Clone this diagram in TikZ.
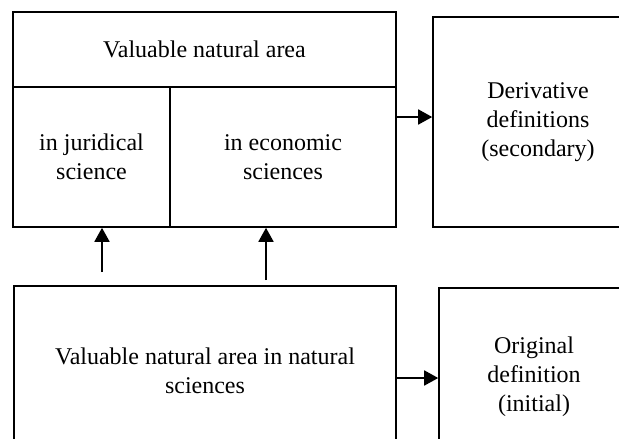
\documentclass[tikz,border=0pt]{standalone}
\usepackage{fontspec}
\setmainfont{Liberation Serif}
\usetikzlibrary{arrows.meta}
\begin{document}
\begin{tikzpicture}[x=1pt,y=-1pt,
  box/.style={draw=black,line width=1.6pt,rectangle,inner sep=0pt,align=center,
    font=\fontsize{24}{29}\selectfont},
  arr/.style={line width=1.8pt,-{Triangle[length=14pt,width=15pt]}}]
\useasboundingbox (0,0) rectangle (619,439);
\clip (0,0) rectangle (619,439);
\node[box,minimum width=383pt,minimum height=75pt] (top) at (204.5,49.5) {Valuable natural area};
\node[box,minimum width=157pt,minimum height=140pt] (jur) at (91.5,157) {in juridical\\science};
\node[box,minimum width=226pt,minimum height=140pt] (econ) at (283,157) {in economic\\sciences};
\node[box,minimum width=210pt,minimum height=210pt] (deriv) at (538,122) {Derivative\\definitions\\(secondary)};
\node[box,minimum width=382pt,minimum height=169pt] (nat) at (205,370.5) {Valuable natural area in natural\\sciences};
\node[box,minimum width=190pt,minimum height=178pt] (orig) at (534,377) {Original\\definition\\(initial)};
\coordinate (c1) at (102,272);
\coordinate (c2) at (266,280);
\draw[arr] (c1) -- (jur.south -| c1);
\draw[arr] (c2) -- (econ.south -| c2);
\draw[arr] (econ.east |- 0,117) -- (deriv.west |- 0,117);
\draw[arr] (nat.east |- 0,378) -- (orig.west |- 0,378);
\end{tikzpicture}
\end{document}
